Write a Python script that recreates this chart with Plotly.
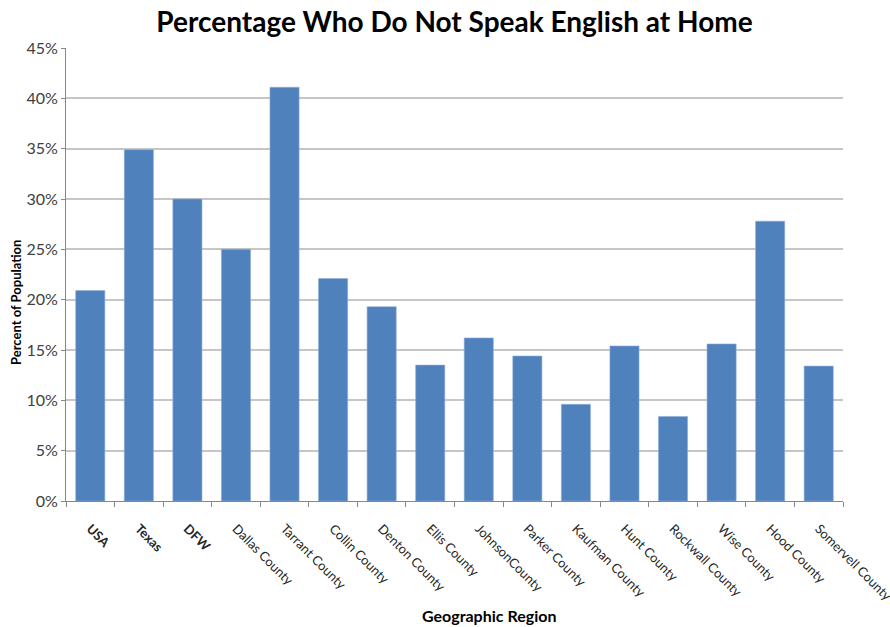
import plotly.graph_objects as go

# Share of residents who speak a language other than English at home
regions = ["USA", "Texas", "DFW", "Dallas County", "Tarrant County", "Collin County",
           "Denton County", "Ellis County", "JohnsonCounty", "Parker County",
           "Kaufman County", "Hunt County", "Rockwall County", "Wise County",
           "Hood County", "Somervell County"]
pct_non_english = [20.9, 34.9, 30.0, 25.0, 41.1, 22.1, 19.3, 13.5, 16.2, 14.4,
                   9.6, 15.4, 8.4, 15.6, 27.8, 13.4]
bold_regions = ["USA", "Texas", "DFW"]
y_ticks = [0, 5, 10, 15, 20, 25, 30, 35, 40, 45]

W, H = 890, 627
M_L, M_R, M_T, M_B = 66, 47, 48, 126

tick_text = [f"<b>{r}</b>" if r in bold_regions else r for r in regions]

fig = go.Figure(
    go.Bar(
        x=regions,
        y=[v / 100 for v in pct_non_english],
        marker=dict(color="#4F81BD", line=dict(color="#8fb0d8", width=0.6)),
        hoverinfo="x+y",
    )
)

font_family = "Lato, 'Open Sans', sans-serif"

fig.update_layout(
    width=W,
    height=H,
    margin=dict(l=M_L, r=M_R, t=M_T, b=M_B, autoexpand=False),
    plot_bgcolor="white",
    paper_bgcolor="white",
    bargap=0.4,
    showlegend=False,
    font=dict(family=font_family, color="#404040", size=14),
    title=dict(
        text="<b>Percentage Who Do Not Speak English at Home</b>",
        x=0.5,
        xanchor="center",
        xref="paper",
        y=1 - 22 / H,
        yref="container",
        yanchor="middle",
        font=dict(family=font_family, size=28, color="#000000"),
    ),
    xaxis=dict(
        tickmode="array",
        tickvals=regions,
        ticktext=tick_text,
        tickangle=45,
        tickson="boundaries",
        ticks="outside",
        ticklen=5,
        tickcolor="#888888",
        ticklabelstandoff=14,
        automargin=False,
        showline=True,
        linecolor="#888888",
        linewidth=1,
        showgrid=False,
        tickfont=dict(family=font_family, size=13, color="#262626"),
    ),
    yaxis=dict(
        range=[0, 0.45],
        tickmode="array",
        tickvals=[t / 100 for t in y_ticks],
        ticktext=[f"{t}%" for t in y_ticks],
        ticks="outside",
        ticklen=4,
        tickcolor="#888888",
        automargin=False,
        showline=True,
        linecolor="#888888",
        linewidth=1,
        showgrid=True,
        gridcolor="#c6c6c6",
        gridwidth=1.5,
        zeroline=False,
        tickfont=dict(family=font_family, size=16, color="#404040"),
    ),
    annotations=[
        dict(
            text="<b>Geographic Region</b>",
            xref="paper",
            yref="paper",
            x=(489 - M_L) / (W - M_L - M_R),
            y=-(615 - (H - M_B)) / (H - M_T - M_B),
            xanchor="center",
            yanchor="middle",
            showarrow=False,
            font=dict(family=font_family, size=16, color="#000000"),
        ),
        dict(
            text="<b>Percent of Population</b>",
            textangle=-90,
            xref="paper",
            yref="paper",
            x=-(M_L - 16) / (W - M_L - M_R),
            y=((H - M_B) - 303) / (H - M_T - M_B),
            xanchor="center",
            yanchor="middle",
            showarrow=False,
            font=dict(family=font_family, size=13, color="#000000"),
        ),
    ],
)

fig.write_html("out.html")
